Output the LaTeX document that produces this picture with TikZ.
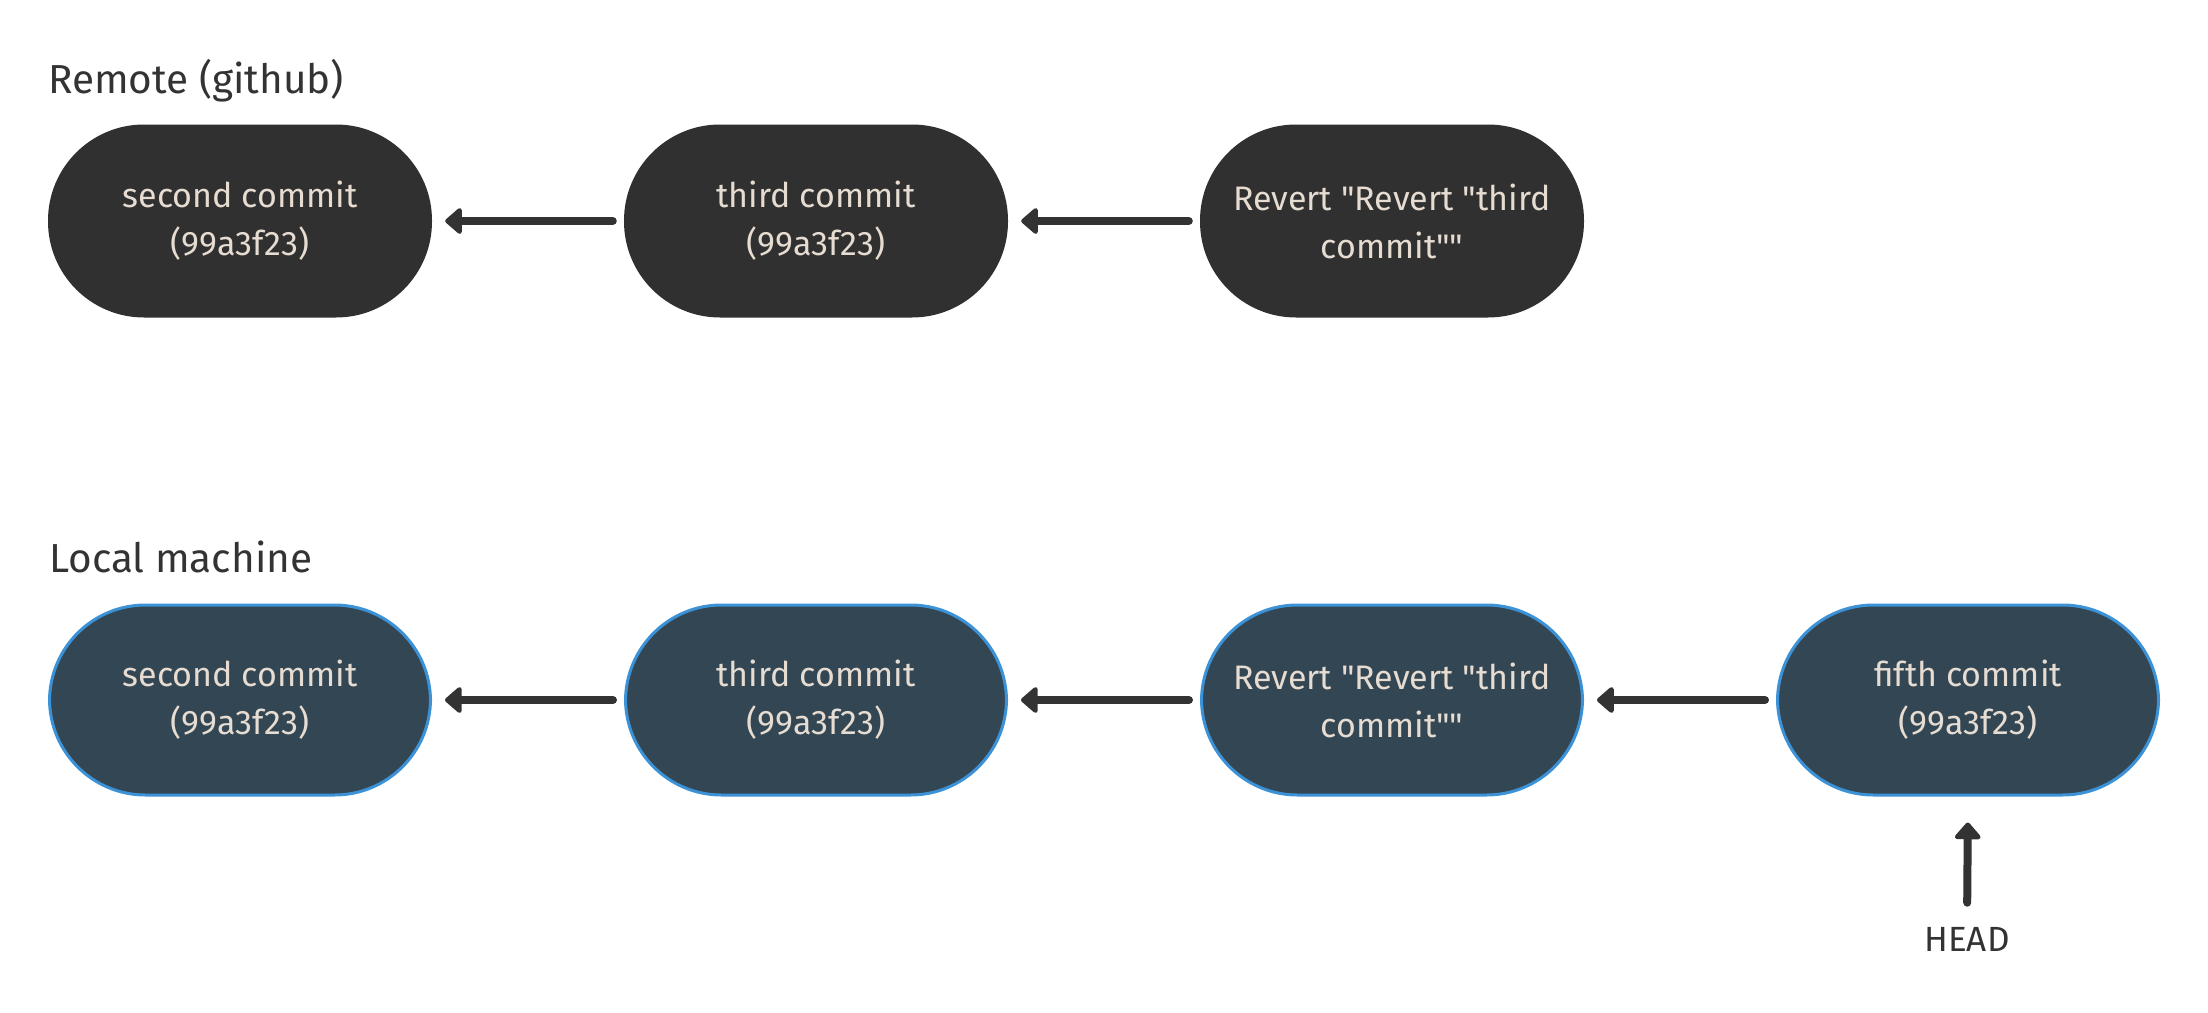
\documentclass[tikz,border=0pt]{standalone}
\usepackage{fontspec}
\setmainfont{Fira Sans}[Ligatures=TeXOff]
\usetikzlibrary{arrows.meta}
\definecolor{remotefill}{HTML}{303030}
\definecolor{localfill}{HTML}{334654}
\definecolor{localedge}{HTML}{3C92D6}
\definecolor{commtext}{HTML}{E6DCD1}
\definecolor{ink}{HTML}{333333}
\tikzset{
  commit/.style={rectangle, rounded corners=96pt, minimum width=384pt, minimum height=193pt,
    align=center, text=commtext, font=\fontsize{34}{48}\selectfont, inner sep=0pt},
  remotec/.style={commit, fill=remotefill},
  localc/.style={commit, fill=localfill, draw=localedge, line width=3pt, minimum width=381pt, minimum height=190pt},
  title/.style={anchor=base west, inner sep=0pt, text=ink, font=\fontsize{40.5}{48}\selectfont},
  arr/.style={draw=ink, line width=8pt, line cap=round, -{Triangle[length=18pt,width=30pt,round]}},
}
\begin{document}
\begin{tikzpicture}[x=1pt,y=-1pt]
\useasboundingbox (0,0) rectangle (2208,1012);
\node[title] (rt) at (48,93) {Remote (github)};
\node[title] (lt) at (49,572) {Local machine};

\node[remotec] (r1) at (240,221) {second commit\\(99a3f23)};
\node[remotec] (r2) at (816,221) {third commit\\(99a3f23)};
\node[remotec] (r3) at (1392,221) {Revert "Revert "third\\commit""};

\node[localc] (l1) at (240,700) {second commit\\(99a3f23)};
\node[localc] (l2) at (816,700) {third commit\\(99a3f23)};
\node[localc] (l3) at (1392,700) {Revert "Revert "third\\commit""};
\node[localc] (l4) at (1968,700) {fifth commit\\(99a3f23)};

\draw[arr, shorten <=11pt, shorten >=13pt] (r2.west) -- (r1.east);
\draw[arr, shorten <=11pt, shorten >=13pt] (r3.west) -- (r2.east);
\draw[arr, shorten <=11pt, shorten >=13pt] (l2.west) -- (l1.east);
\draw[arr, shorten <=11pt, shorten >=13pt] (l3.west) -- (l2.east);
\draw[arr, shorten <=11pt, shorten >=13pt] (l4.west) -- (l3.east);

\node[anchor=base, inner sep=0pt, text=ink, font=\fontsize{35}{40}\selectfont] (head) at (1967,951) {HEAD};
\draw[arr, shorten <=24pt, shorten >=26pt] (head.north) -- (l4.south);
\end{tikzpicture}
\end{document}
